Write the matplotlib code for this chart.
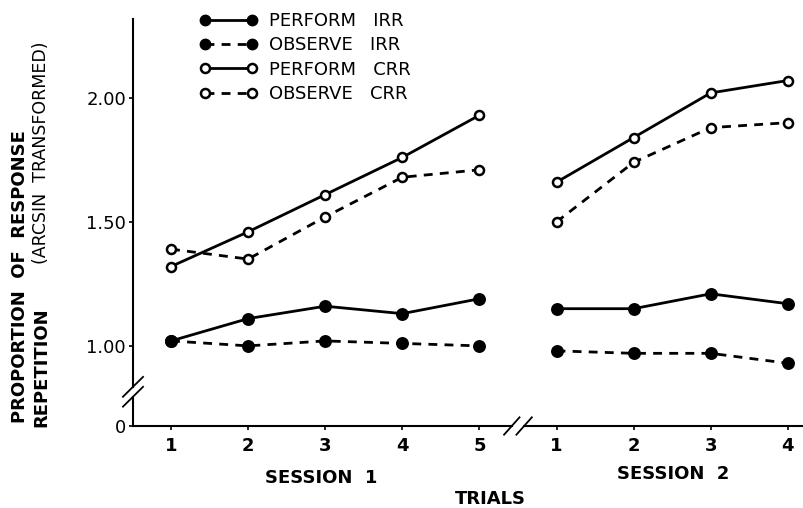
import numpy as np
import matplotlib.pyplot as plt
from matplotlib.lines import Line2D

# trial positions on a continuous axis (session 2 starts after a gap)
s1_trials = [1, 2, 3, 4, 5]
s2_trials = [1, 2, 3, 4]
s1_pos = [1, 2, 3, 4, 5]
s2_pos = [6, 7, 8, 9]

# values (arcsin transformed proportions)
perform_irr_s1 = [1.02, 1.11, 1.16, 1.13, 1.19]
perform_irr_s2 = [1.15, 1.15, 1.21, 1.17]
observe_irr_s1 = [1.02, 1.00, 1.02, 1.01, 1.00]
observe_irr_s2 = [0.98, 0.97, 0.97, 0.93]
perform_crr_s1 = [1.32, 1.46, 1.61, 1.76, 1.93]
perform_crr_s2 = [1.66, 1.84, 2.02, 2.07]
observe_crr_s1 = [1.39, 1.35, 1.52, 1.68, 1.71]
observe_crr_s2 = [1.50, 1.74, 1.88, 1.90]

y_ticks = [2.00, 1.50, 1.00]
y_tick_labels = ['2.00', '1.50', '1.00']
y_zero = 0.677  # where "0" sits below the axis break

fig = plt.figure(figsize=(8.04, 5.08), dpi=100)
ax = fig.add_axes([133 / 804, 82 / 508, 671 / 804, 407 / 508])

dash = (0, (3.2, 2.6))
styles = [
    (perform_irr_s1, perform_irr_s2, '-', 'black', 7.5),
    (observe_irr_s1, observe_irr_s2, dash, 'black', 7.5),
    (perform_crr_s1, perform_crr_s2, '-', 'white', 6.5),
    (observe_crr_s1, observe_crr_s2, dash, 'white', 6.5),
]
for s1, s2, ls, fc, ms in styles:
    for pos, vals in ((s1_pos, s1), (s2_pos, s2)):
        ax.plot(pos, vals, linestyle=ls, color='black', lw=2.0, marker='o',
                markersize=ms, markerfacecolor=fc, markeredgecolor='black',
                markeredgewidth=1.8, zorder=3)

ax.set_xlim(0.507, 9.21)
ax.set_ylim(y_zero, 2.318)

for s in ['top', 'right', 'left', 'bottom']:
    ax.spines[s].set_visible(False)

# y axis with break
ybrk = 0.815
gap = 0.02
ax.plot([0.507, 0.507], [y_zero, ybrk - gap], color='black', lw=1.5, clip_on=False)
ax.plot([0.507, 0.507], [ybrk + gap, 2.318], color='black', lw=1.5, clip_on=False)
for yy in (ybrk - gap, ybrk + gap):
    ax.plot([0.507 - 0.13, 0.507 + 0.13], [yy - 0.04, yy + 0.04], color='black',
            lw=1.3, clip_on=False)

# x axis with break
xbrk = 5.5
ax.plot([0.507, xbrk - 0.08], [y_zero, y_zero], color='black', lw=1.5, clip_on=False)
ax.plot([xbrk + 0.08, 9.21], [y_zero, y_zero], color='black', lw=1.5, clip_on=False)
for xx in (xbrk - 0.08, xbrk + 0.08):
    ax.plot([xx - 0.1, xx + 0.1], [y_zero - 0.035, y_zero + 0.035], color='black',
            lw=1.3, clip_on=False)

ax.set_yticks([y_zero] + y_ticks)
ax.set_yticklabels(['0'] + y_tick_labels, fontsize=13)
ax.set_xticks(s1_pos + s2_pos)
ax.set_xticklabels([str(t) for t in s1_trials + s2_trials], fontsize=13,
                   fontweight='bold')
ax.tick_params(axis='y', length=3, width=1.2, pad=2)
ax.tick_params(axis='x', length=3, width=1.2, pad=5)

fig.text(321 / 804, 1 - 478 / 508, 'SESSION  1', ha='center', va='center',
         fontsize=13, fontweight='bold')
fig.text(673 / 804, 1 - 474 / 508, 'SESSION  2', ha='center', va='center',
         fontsize=13, fontweight='bold')
fig.text(490 / 804, 1 - 499 / 508, 'TRIALS', ha='center', va='center',
         fontsize=13, fontweight='bold')

fig.text(20 / 804, 1 - 277 / 508, 'PROPORTION  OF  RESPONSE', rotation=90,
         ha='center', va='center', fontsize=13, fontweight='bold')
fig.text(41 / 804, 1 - 427 / 508, 'REPETITION', rotation=90,
         ha='center', va='bottom', fontsize=13, fontweight='bold')
fig.text(41 / 804, 1 - 42 / 508, '(ARCSIN  TRANSFORMED)', rotation=90,
         ha='center', va='top', fontsize=12.5)

handles = [
    Line2D([], [], color='black', lw=2, ls='-', marker='o', ms=7.5,
           mfc='black', mec='black'),
    Line2D([], [], color='black', lw=2, ls=dash, marker='o', ms=7.5,
           mfc='black', mec='black'),
    Line2D([], [], color='black', lw=2, ls='-', marker='o', ms=6.5,
           mfc='white', mec='black', mew=1.8),
    Line2D([], [], color='black', lw=2, ls=dash, marker='o', ms=6.5,
           mfc='white', mec='black', mew=1.8),
]
labels = ['PERFORM   IRR', 'OBSERVE   IRR', 'PERFORM   CRR', 'OBSERVE   CRR']
fig.legend(handles, labels, loc='upper left', bbox_to_anchor=(200 / 804, 1 - 12 / 508),
           frameon=False, numpoints=2, handlelength=3.2, handletextpad=0.6,
           labelspacing=0.35, fontsize=13, borderaxespad=0, borderpad=0)

fig.savefig('out.png', dpi=100)
